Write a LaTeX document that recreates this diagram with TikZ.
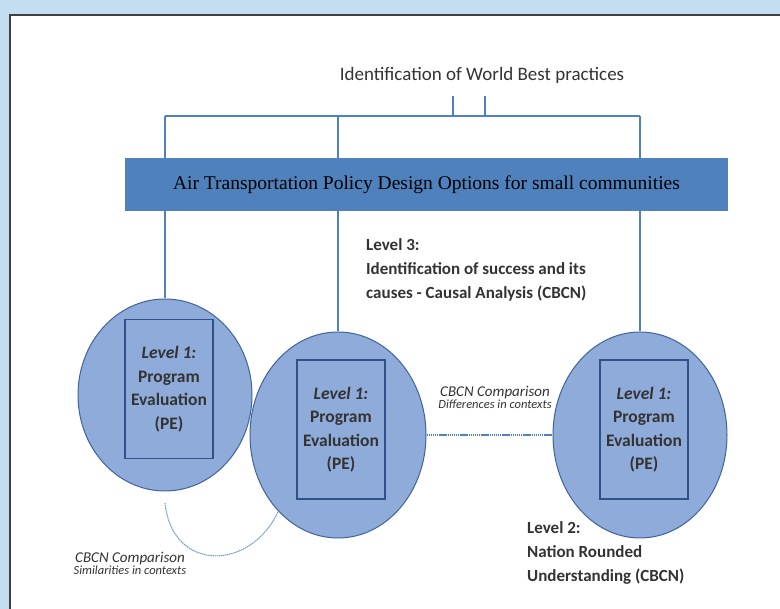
\documentclass[tikz,border=0pt]{standalone}
\usepackage{fontspec}
\setmainfont{Carlito}
\newfontfamily\barfont{Liberation Serif}
\usepackage{tikz}
\usetikzlibrary{shapes.geometric,positioning}
\definecolor{skyBack}{HTML}{C3DEF0}
\definecolor{barBlue}{HTML}{4F81BD}
\definecolor{ovalFill}{HTML}{8EABD9}
\definecolor{ovalEdge}{HTML}{3F639A}
\definecolor{boxEdge}{HTML}{2F5089}
\definecolor{ink}{HTML}{333333}

\begin{document}
\begin{tikzpicture}[x=1pt,y=-1pt,text=ink,
  oval/.style={ellipse,draw=ovalEdge,fill=ovalFill,line width=1pt,inner sep=0pt},
  pebox/.style={draw=boxEdge,line width=1.6pt,minimum width=88pt,minimum height=139pt,inner sep=0pt,align=center,font=\fontsize{17.5}{23.5}\selectfont\bfseries},
  link/.style={barBlue,line width=1.1pt},
  cmp/.style={barBlue,line width=1.6pt,dash pattern=on 1.4pt off 0.7pt},
  lvl/.style={align=left,inner sep=0pt,font=\fontsize{17}{24}\selectfont\bfseries},
  cmplab/.style={align=center,inner sep=0pt,font=\itshape}]
\useasboundingbox (0,0) rectangle (780,609);
% frame
\fill[skyBack] (0,0) rectangle (780,609);
\fill[white] (10,15) rectangle (790,620);
\draw[line width=2.5pt,black!75] (10,620) -- (10,15) -- (790,15);
% title
\node[font=\fontsize{19}{22}\selectfont,inner sep=0pt] (title) at (482,75) {Identification of World Best practices};
% program evaluations
\node[oval,minimum width=174pt,minimum height=192pt] (E1) at (165,395) {};
\node[oval,minimum width=176pt,minimum height=206pt] (E2) at (338,435) {};
\node[oval,minimum width=174pt,minimum height=206pt] (E3) at (640,435) {};
% tree
\coordinate (tl) at (165,116);
\coordinate (tr) at (640,116);
\coordinate (t1) at (453,96);
\coordinate (t2) at (485,96);
\draw[link] (tl) -- (tr);
\draw[link] (t1) -- (t1 |- tl);
\draw[link] (t2) -- (t2 |- tl);
\draw[link] (tl) -- (E1.north);
\draw[link] (E2.north |- tl) -- (E2.north);
\draw[link] (tr) -- (E3.north);
% policy bar
\node[fill=barBlue,minimum width=603pt,minimum height=53pt,text=black,font=\barfont\fontsize{19.5}{22}\selectfont] (bar) at (426.5,184.5) {Air Transportation Policy Design Options for small communities};
\node[pebox] (R1) at (169,389) {{\itshape Level 1:}\\Program\\Evaluation\\(PE)};
\node[pebox] (R2) at (341,429.5) {{\itshape Level 1:}\\Program\\Evaluation\\(PE)};
\node[pebox] (R3) at (644,429.5) {{\itshape Level 1:}\\Program\\Evaluation\\(PE)};
% comparisons
\coordinate (a1) at (165,503);
\draw[cmp,line width=1.1pt,barBlue!80] (a1) .. controls (172,572) and (250,572) .. (E2.232);
\draw[cmp] (E2.east) -- (E3.west);
\node[cmplab] (simlab) at (130,563) {{\fontsize{15}{19}\selectfont CBCN Comparison}\\{\fontsize{12.5}{15}\selectfont Similarities in contexts}};
\node[cmplab] (diflab) at (495,397) {{\fontsize{15}{19}\selectfont CBCN Comparison}\\{\fontsize{12.5}{15}\selectfont Differences in contexts}};
% levels
\node[lvl,anchor=west] (lev3) at (366,270) {Level 3:\\Identification of success and its\\causes - Causal Analysis (CBCN)};
\node[lvl,anchor=west] (lev2) at (527,553) {Level 2:\\Nation Rounded\\Understanding (CBCN)};
\end{tikzpicture}
\end{document}
